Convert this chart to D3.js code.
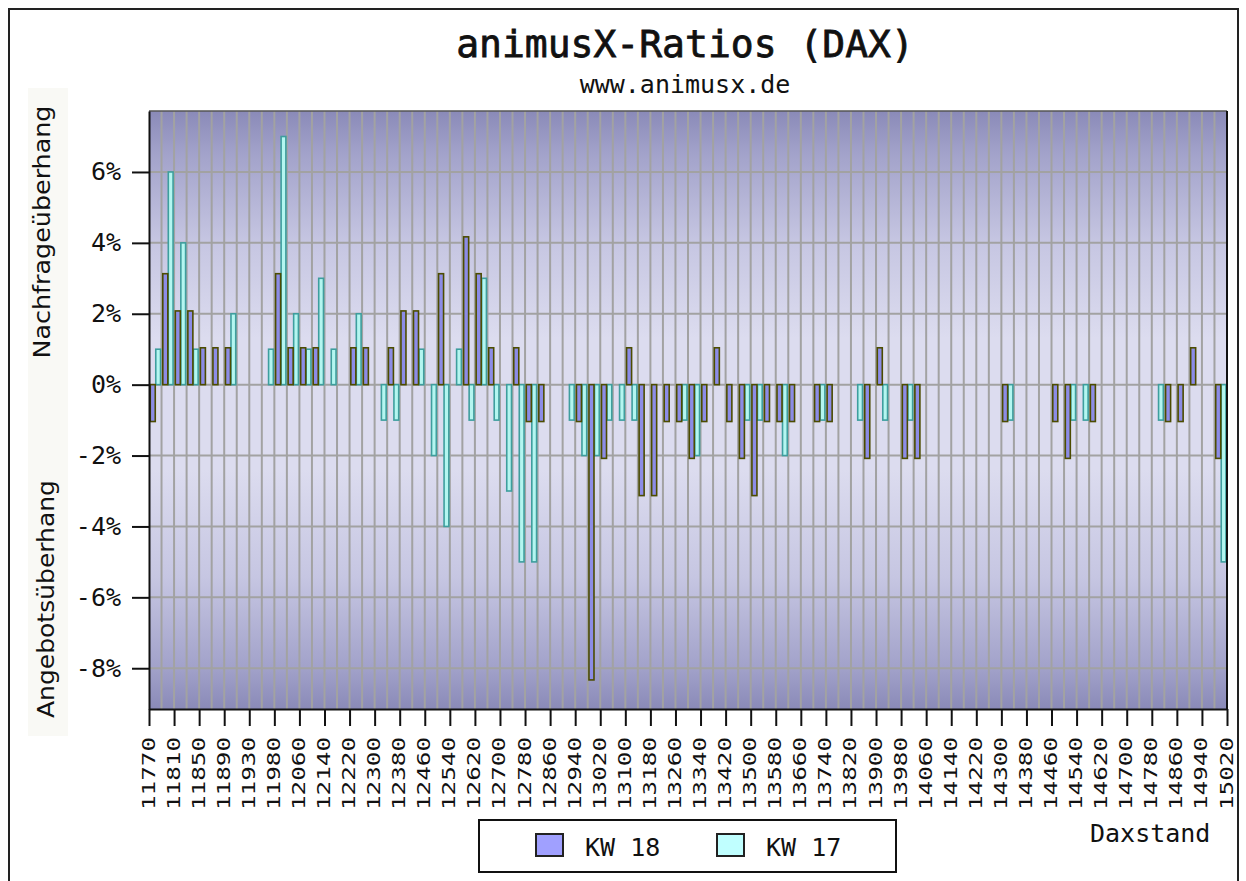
<!DOCTYPE html>
<html>
<head>
<meta charset="utf-8">
<script src="https://cdn.jsdelivr.net/npm/d3@7"></script>
<style>
  body { margin: 0; background: #fff; }
  svg { display: block; }
</style>
</head>
<body>
<script>
// ----- DATA -----
// tick labels (every second bar group carries a label, last one sits on the right edge)
const tickLabels = ["11770","11810","11850","11890","11930","11980","12060","12140","12220","12300",
  "12380","12460","12540","12620","12700","12780","12860","12940","13020","13100","13180","13260",
  "13340","13420","13500","13580","13660","13740","13820","13900","13980","14060","14140","14220",
  "14300","14380","14460","14540","14620","14700","14780","14860","14940","15020"];

// KW 18, percent per group (86 groups)
const kw18 = [-1.04, 3.13, 2.08, 2.08, 1.04, 1.04, 1.04, 0, 0, 0,
  3.13, 1.04, 1.04, 1.04, 0, 0, 1.04, 1.04, 0, 1.04,
  2.08, 2.08, 0, 3.13, 0, 4.17, 3.13, 1.04, 0, 1.04,
  -1.04, -1.04, 0, 0, -1.04, -8.33, -2.08, 0, 1.04, -3.13,
  -3.13, -1.04, -1.04, -2.08, -1.04, 1.04, -1.04, -2.08, -3.13, -1.04,
  -1.04, -1.04, 0, -1.04, -1.04, 0, 0, -2.08, 1.04, 0,
  -2.08, -2.08, 0, 0, 0, 0, 0, 0, -1.04, 0,
  0, 0, -1.04, -2.08, 0, -1.04, 0, 0, 0, 0,
  0, -1.04, -1.04, 1.04, 0, -2.08];

// KW 17, percent per group
const kw17 = [1, 6, 4, 1, 0, 0, 2, 0, 0, 1,
  7, 2, 1, 3, 1, 0, 2, 0, -1, -1,
  0, 1, -2, -4, 1, -1, 3, -1, -3, -5,
  -5, 0, 0, -1, -2, -2, -1, -1, -1, 0,
  0, 0, -1, -2, 0, 0, 0, -1, -1, 0,
  -2, 0, 0, -1, 0, 0, -1, 0, -1, 0,
  -1, 0, 0, 0, 0, 0, 0, 0, -1, 0,
  0, 0, 0, -1, -1, 0, 0, 0, 0, 0,
  -1, 0, 0, 0, 0, -5];

const yTicks = [-8, -6, -4, -2, 0, 2, 4, 6];
const seriesNames = ["KW 18", "KW 17"];

const w = 1246, h = 881;
const plotLeft = 149, plotRight = 1227, plotTop = 111, plotBottom = 709;
const mono = "'DejaVu Sans Mono', 'Liberation Mono', monospace";

// ----- SVG -----
const svg = d3.select("body").append("svg")
  .attr("width", w)
  .attr("height", h);

// outer frame
svg.append("path")
  .attr("d", "M9,890 V9 H1238 V890")
  .attr("fill", "none")
  .attr("stroke", "#222")
  .attr("stroke-width", 2);

// ----- SCALES -----
const x = d3.scaleBand()
  .domain(d3.range(kw18.length))
  .range([plotLeft, plotRight]);

const xIdx = d3.scaleLinear() // group index -> pixel, used for ticks and grid
  .domain([0, kw18.length])
  .range([plotLeft, plotRight]);

const y = d3.scaleLinear()
  .domain([-9.15, 7.72])
  .range([plotBottom, plotTop]);

// ----- BACKGROUND -----
const grad = svg.append("defs").append("linearGradient")
  .attr("id", "bg")
  .attr("x1", 0).attr("y1", 0).attr("x2", 0).attr("y2", 1);
[[0, "#8a8ab8"], [0.07, "#a2a2ca"], [0.22, "#c6c6e2"], [0.38, "#dcdcef"],
 [0.6, "#dcdcef"], [0.78, "#c6c6e2"], [0.93, "#a2a2ca"], [1, "#8a8ab8"]]
  .forEach(s => grad.append("stop").attr("offset", s[0]).attr("stop-color", s[1]));

svg.append("rect")
  .attr("x", plotLeft).attr("y", plotTop)
  .attr("width", plotRight - plotLeft).attr("height", plotBottom - plotTop)
  .attr("fill", "url(#bg)");

// faint panel behind the y titles
svg.append("rect")
  .attr("x", 28).attr("y", 88).attr("width", 40).attr("height", 648)
  .attr("fill", "#f9f9f5");

// ----- GRID -----
svg.append("g").selectAll("line")
  .data(d3.range(1, kw18.length))
  .enter().append("line")
  .attr("x1", d => xIdx(d)).attr("x2", d => xIdx(d))
  .attr("y1", plotTop).attr("y2", plotBottom)
  .attr("stroke", "#a2a2a2")
  .attr("stroke-width", 2);

svg.append("g").selectAll("line")
  .data(yTicks)
  .enter().append("line")
  .attr("x1", plotLeft).attr("x2", plotRight)
  .attr("y1", d => y(d)).attr("y2", d => y(d))
  .attr("stroke", "#a2a2a2")
  .attr("stroke-width", 2);

// ----- BARS -----
const bw = x.bandwidth();

svg.append("g").selectAll("rect")
  .data(kw17.map((v, i) => ({ i, v })).filter(d => d.v !== 0))
  .enter().append("rect")
  .attr("x", d => x(d.i) + bw * 0.54)
  .attr("y", d => Math.min(y(d.v), y(0)))
  .attr("width", bw * 0.38)
  .attr("height", d => Math.abs(y(d.v) - y(0)))
  .attr("fill", "#b4f6f0")
  .attr("stroke", "#3e9e9e")
  .attr("stroke-width", 1.6);

svg.append("g").selectAll("rect")
  .data(kw18.map((v, i) => ({ i, v })).filter(d => d.v !== 0))
  .enter().append("rect")
  .attr("x", d => x(d.i) + bw * 0.1)
  .attr("y", d => Math.min(y(d.v), y(0)))
  .attr("width", bw * 0.4)
  .attr("height", d => Math.abs(y(d.v) - y(0)))
  .attr("fill", "#8c8ce6")
  .attr("stroke", "#4c4c00")
  .attr("stroke-width", 1.6);

// plot frame
svg.append("line")
  .attr("x1", plotLeft).attr("x2", plotRight).attr("y1", plotTop).attr("y2", plotTop)
  .attr("stroke", "#555").attr("stroke-width", 1.5);
svg.append("line")
  .attr("x1", plotRight).attr("x2", plotRight).attr("y1", plotTop).attr("y2", plotBottom)
  .attr("stroke", "#111").attr("stroke-width", 2);

// ----- AXES -----
const xAxis = d3.axisBottom(xIdx)
  .tickValues(d3.range(0, kw18.length + 1, 2))
  .tickSize(17)
  .tickSizeOuter(0)
  .tickFormat(d => tickLabels[d / 2]);

const gx = svg.append("g")
  .attr("transform", "translate(0," + plotBottom + ")")
  .call(xAxis);
gx.select(".domain").attr("stroke", "#111").attr("stroke-width", 2);
gx.selectAll(".tick line").attr("stroke", "#111").attr("stroke-width", 2);
gx.selectAll(".tick text")
  .attr("transform", "rotate(-90)")
  .attr("text-anchor", "end")
  .attr("x", -28)
  .attr("y", 5)
  .attr("dy", null)
  .attr("textLength", 73)
  .attr("lengthAdjust", "spacingAndGlyphs")
  .style("font-family", mono)
  .style("font-size", "18px")
  .attr("fill", "#111");

const yAxis = d3.axisLeft(y)
  .tickValues(yTicks)
  .tickSize(17)
  .tickSizeOuter(0)
  .tickPadding(11)
  .tickFormat(d => d + "%");

const gy = svg.append("g")
  .attr("transform", "translate(" + plotLeft + ",0)")
  .call(yAxis);
gy.select(".domain").attr("stroke", "#111").attr("stroke-width", 2);
gy.selectAll(".tick line").attr("stroke", "#111").attr("stroke-width", 2);
gy.selectAll(".tick text")
  .style("font-family", mono)
  .style("font-size", "25px")
  .attr("fill", "#111");

// ----- TITLES -----
svg.append("text")
  .attr("x", 685).attr("y", 57)
  .attr("text-anchor", "middle")
  .style("font-family", mono)
  .style("font-size", "38px")
  .attr("fill", "#111")
  .attr("stroke", "#111")
  .attr("stroke-width", 0.8)
  .text("animusX-Ratios (DAX)");

svg.append("text")
  .attr("x", 685).attr("y", 93)
  .attr("text-anchor", "middle")
  .style("font-family", mono)
  .style("font-size", "25px")
  .attr("fill", "#111")
  .text("www.animusx.de");

svg.append("text")
  .attr("transform", "translate(50,232) rotate(-90)")
  .attr("text-anchor", "middle")
  .attr("textLength", 253)
  .attr("lengthAdjust", "spacingAndGlyphs")
  .style("font-family", "'DejaVu Sans', sans-serif")
  .style("font-size", "23px")
  .attr("fill", "#111")
  .text("Nachfrageüberhang");

svg.append("text")
  .attr("transform", "translate(54,599) rotate(-90)")
  .attr("text-anchor", "middle")
  .attr("textLength", 238)
  .attr("lengthAdjust", "spacingAndGlyphs")
  .style("font-family", "'DejaVu Sans', sans-serif")
  .style("font-size", "23px")
  .attr("fill", "#111")
  .text("Angebotsüberhang");

svg.append("text")
  .attr("x", 1090).attr("y", 842)
  .style("font-family", mono)
  .style("font-size", "25px")
  .attr("fill", "#111")
  .text("Daxstand");

// ----- LEGEND -----
const legend = svg.append("g");
legend.append("rect")
  .attr("x", 479).attr("y", 820).attr("width", 417).attr("height", 52)
  .attr("fill", "#fff").attr("stroke", "#111").attr("stroke-width", 2);

const legendFill = ["#a0a0ff", "#c0ffff"];
const legendX = [536, 717];
seriesNames.forEach((name, i) => {
  legend.append("rect")
    .attr("x", legendX[i]).attr("y", 834).attr("width", 27).attr("height", 22)
    .attr("fill", legendFill[i]).attr("stroke", "#222").attr("stroke-width", 2);
  legend.append("text")
    .attr("x", legendX[i] + 49).attr("y", 856)
    .style("font-family", mono)
    .style("font-size", "25px")
    .attr("fill", "#111")
    .text(name);
});
</script>
</body>
</html>
